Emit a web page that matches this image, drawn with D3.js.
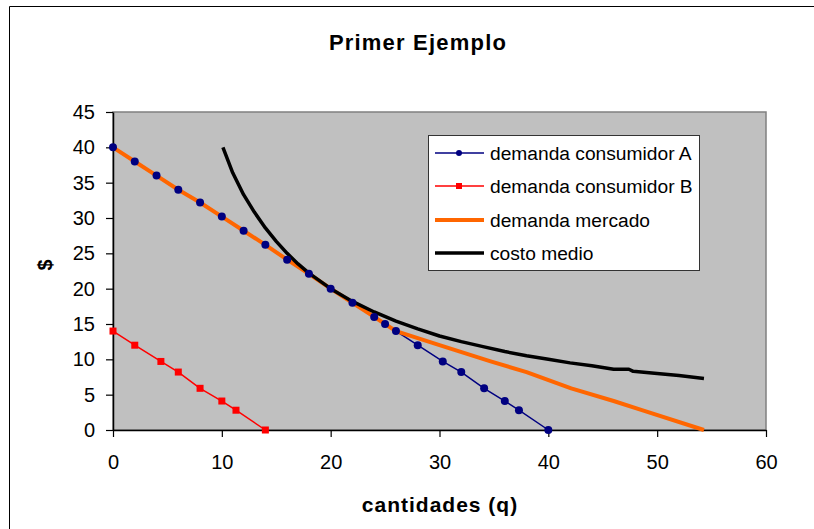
<!DOCTYPE html>
<html>
<head>
<meta charset="utf-8">
<script src="https://cdn.jsdelivr.net/npm/d3@7"></script>
<style>
	body { margin: 0; background: #fff; }
	svg { display: block; font-family: "Liberation Sans", Arial, sans-serif; }
</style>
</head>
<body>
<div id="chart"></div>
<script>
// demanda consumidor A
var qA = [0, 2, 4, 6, 8, 10, 12, 14, 16, 18, 20, 22, 24, 25, 26, 28, 30.3, 32, 34.1, 36, 37.3, 40];
var pA = [40, 38, 36, 34, 32.2, 30.2, 28.2, 26.2, 24.1, 22.1, 20, 18, 16, 15, 14, 12, 9.7, 8.2, 5.9, 4.1, 2.8, 0];
// demanda consumidor B
var qB = [0, 2, 4.4, 6, 8, 10, 11.3, 14];
var pB = [14, 12, 9.7, 8.2, 5.9, 4.1, 2.8, 0];
// demanda mercado
var qM = [0, 2, 4, 6, 8, 10, 12, 14, 16, 18, 20, 22, 24, 25, 26, 30, 34.7, 38, 42.1, 46, 48.6, 54.3];
var pM = [40, 38, 36, 34, 32.2, 30.2, 28.2, 26.2, 24.1, 22.1, 20, 18, 16, 15, 14, 12, 9.7, 8.2, 5.9, 4.1, 2.8, 0];
// costo medio
var qC = [10.1, 11, 12, 13, 14, 15, 16, 17, 18, 19, 20, 22, 24, 26, 28, 30, 32, 34, 36, 38, 40, 42, 44, 46, 47.4, 47.8, 50, 52, 54.3];
var pC = [40, 36.4, 33.3, 30.8, 28.6, 26.7, 25, 23.5, 22.2, 21.1, 20, 18.2, 16.7, 15.4, 14.3, 13.3, 12.5, 11.8, 11.1, 10.5, 10, 9.5, 9.1, 8.6, 8.6, 8.3, 8.0, 7.7, 7.3];

var xTicks = [0, 10, 20, 30, 40, 50, 60];
var yTicks = [0, 5, 10, 15, 20, 25, 30, 35, 40, 45];

var seriesNames = ["demanda consumidor A", "demanda consumidor B", "demanda mercado", "costo medio"];
var seriesColors = ["#000080", "#ff0000", "#ff6600", "#000000"];

var width = 814, height = 529;
var plot = {left: 113, top: 112, right: 766, bottom: 430};

var x = d3.scaleLinear().domain([0, 60]).range([plot.left, plot.right]);
var y = d3.scaleLinear().domain([0, 45]).range([plot.bottom, plot.top]);

function zipPts(qs, ps) {
	return qs.map(function(q, i) { return {q: q, p: ps[i]}; });
}

var series = [
	{name: seriesNames[0], color: seriesColors[0], pts: zipPts(qA, pA), w: 1.5, marker: "circle"},
	{name: seriesNames[1], color: seriesColors[1], pts: zipPts(qB, pB), w: 1.5, marker: "square"},
	{name: seriesNames[2], color: seriesColors[2], pts: zipPts(qM, pM), w: 4, marker: null},
	{name: seriesNames[3], color: seriesColors[3], pts: zipPts(qC, pC), w: 3.5, marker: null}
];

var svg = d3.select("#chart").append("svg")
	.attr("width", width)
	.attr("height", height);

// chart border (only left and top visible)
svg.append("path")
	.attr("d", "M9.5," + height + "V6.5H" + width)
	.attr("fill", "none")
	.attr("stroke", "#000")
	.attr("stroke-width", 1);

// plot area
svg.append("rect")
	.attr("x", plot.left)
	.attr("y", plot.top)
	.attr("width", plot.right - plot.left)
	.attr("height", plot.bottom - plot.top)
	.attr("fill", "#c0c0c0")
	.attr("stroke", "#808080")
	.attr("stroke-width", 1.5);

// title
svg.append("text")
	.attr("x", 418)
	.attr("y", 50)
	.attr("text-anchor", "middle")
	.style("font-size", "22px")
	.style("font-weight", "bold")
	.style("letter-spacing", "1.2px")
	.text("Primer Ejemplo");

// axes
var xAxis = svg.append("g")
	.attr("transform", "translate(0," + plot.bottom + ")")
	.call(d3.axisBottom(x).tickValues(xTicks).tickSize(7).tickSizeOuter(0).tickPadding(18));

var yAxis = svg.append("g")
	.attr("transform", "translate(" + plot.left + ",0)")
	.call(d3.axisLeft(y).tickValues(yTicks).tickSize(7).tickSizeOuter(0).tickPadding(11));

[xAxis, yAxis].forEach(function(ax) {
	ax.attr("font-family", null).attr("font-size", null);
	ax.select(".domain").attr("stroke", "#000").attr("stroke-width", 1.5);
	ax.selectAll(".tick line").attr("stroke", "#000").attr("stroke-width", 1.2);
	ax.selectAll(".tick text").style("font-size", "20px").attr("fill", "#000");
});

svg.append("text")
	.attr("x", 440)
	.attr("y", 512)
	.attr("text-anchor", "middle")
	.style("font-size", "21px")
	.style("font-weight", "bold")
	.style("letter-spacing", "1px")
	.text("cantidades (q)");

svg.append("text")
	.attr("transform", "translate(52,265) rotate(-90)")
	.attr("text-anchor", "middle")
	.style("font-size", "20px")
	.style("font-weight", "bold")
	.text("$");

// lines first, markers on top
var line = d3.line()
	.x(function(d) { return x(d.q); })
	.y(function(d) { return y(d.p); });

series.forEach(function(s) {
	svg.append("path")
		.datum(s.pts)
		.attr("d", line)
		.attr("fill", "none")
		.attr("stroke", s.color)
		.attr("stroke-width", s.w)
		.attr("stroke-linejoin", "round");
});

svg.selectAll(".dotA")
	.data(series[0].pts)
	.enter()
	.append("circle")
	.attr("class", "dotA")
	.attr("cx", function(d) { return x(d.q); })
	.attr("cy", function(d) { return y(d.p); })
	.attr("r", 4)
	.attr("fill", series[0].color);

svg.selectAll(".dotB")
	.data(series[1].pts)
	.enter()
	.append("rect")
	.attr("class", "dotB")
	.attr("x", function(d) { return x(d.q) - 3.5; })
	.attr("y", function(d) { return y(d.p) - 3.5; })
	.attr("width", 7)
	.attr("height", 7)
	.attr("fill", series[1].color);

// legend
var legend = svg.append("g");
legend.append("rect")
	.attr("x", 428.5)
	.attr("y", 135.5)
	.attr("width", 271)
	.attr("height", 135)
	.attr("fill", "#fff")
	.attr("stroke", "#333")
	.attr("stroke-width", 1);

var rowY = [153, 186, 220, 253];
series.forEach(function(s, i) {
	var g = legend.append("g").attr("transform", "translate(0," + rowY[i] + ")");
	g.append("line")
		.attr("x1", 435).attr("x2", 484)
		.attr("stroke", s.color)
		.attr("stroke-width", s.w);
	if (s.marker == "circle") {
		g.append("circle").attr("cx", 459).attr("r", 3).attr("fill", s.color);
	} else if (s.marker == "square") {
		g.append("rect").attr("x", 456).attr("y", -3).attr("width", 6).attr("height", 6).attr("fill", s.color);
	}
	g.append("text")
		.attr("x", 490)
		.attr("dy", "0.35em")
		.style("font-size", "19.2px")
		.text(s.name);
});
</script>
</body>
</html>
